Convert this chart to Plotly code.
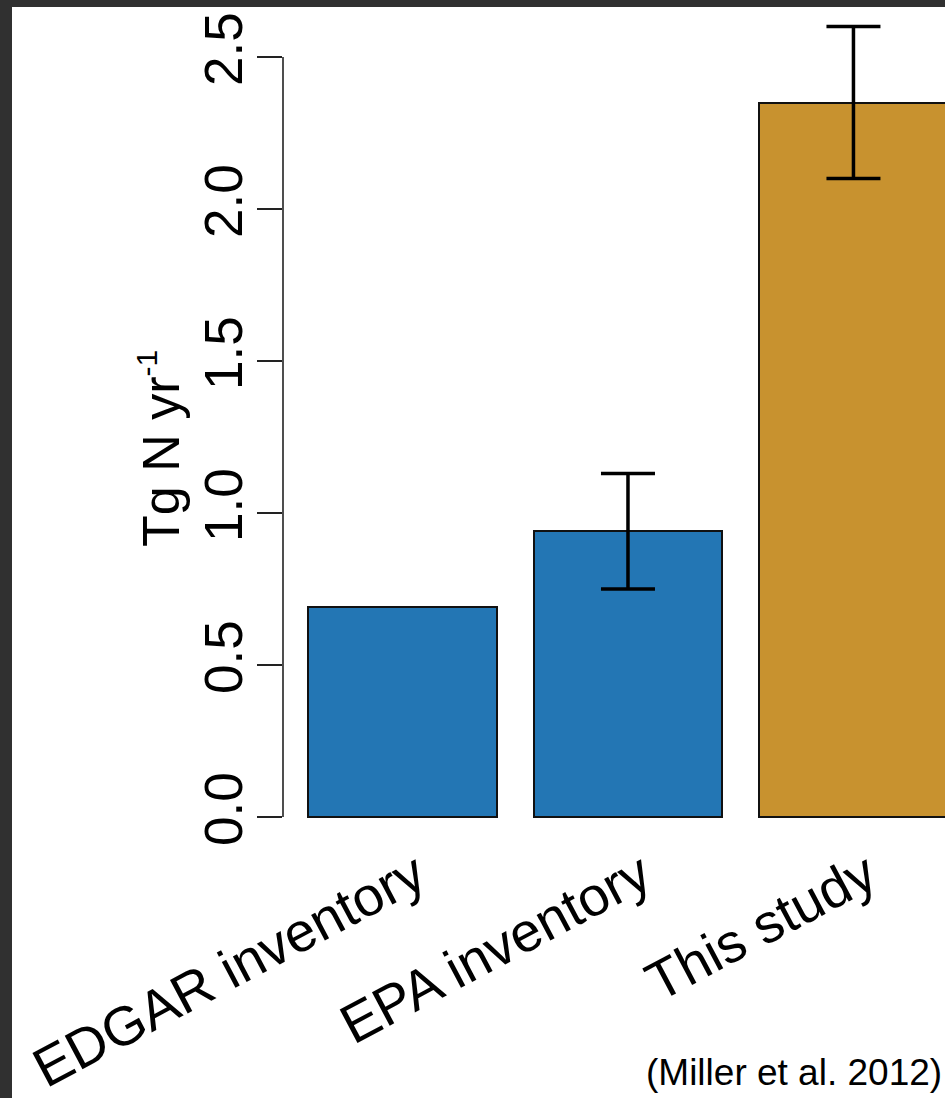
import plotly.graph_objects as go

categories = ["EDGAR inventory", "EPA inventory", "This study"]
values = [0.69, 0.94, 2.35]
err_categories = ["EPA inventory", "This study"]
err_values = [0.94, 2.35]
err_plus = [0.19, 0.25]
err_minus = [0.19, 0.25]
bar_colors = ["#2376B4", "#2376B4", "#C8922F"]
y_ticks = [0.0, 0.5, 1.0, 1.5, 2.0, 2.5]
y_ticktext = ["0.0", "0.5", "1.0", "1.5", "2.0", "2.5"]

W, H = 945, 1098
ML, MR, MT, MB = 283, 0, 20, 276
PW, PH = W - ML - MR, H - MT - MB
ZERO_PX, TOP_TICK_PX = 817, 57
PPU = (ZERO_PX - TOP_TICK_PX) / 2.5
Y0 = -(H - MB - ZERO_PX) / PPU
Y1 = (ZERO_PX - MT) / PPU

FONT = "Liberation Sans, Arial, Helvetica, sans-serif"

fig = go.Figure()
fig.add_trace(go.Bar(
    x=categories, y=values, width=0.835,
    marker=dict(color=bar_colors, line=dict(color="#111111", width=2)),
    showlegend=False, hoverinfo="skip",
))
fig.add_trace(go.Scatter(
    x=err_categories, y=err_values, mode="markers",
    marker=dict(size=0.1, color="rgba(0,0,0,0)"),
    error_y=dict(type="data", symmetric=False, array=err_plus, arrayminus=err_minus,
                 visible=True, color="#000000", thickness=3.5, width=27),
    showlegend=False, hoverinfo="skip",
))

def px_x(p):
    return (p - ML) / PW

def px_y(p):
    return (H - MB - p) / PH

shapes = [
    dict(type="rect", xref="paper", yref="paper", x0=px_x(12), x1=px_x(W + 5),
         y0=px_y(H + 5), y1=px_y(7), fillcolor="white", line=dict(width=0), layer="below"),
    dict(type="line", xref="paper", yref="y", x0=0, x1=0, y0=y_ticks[0], y1=y_ticks[-1],
         line=dict(color="#222222", width=1.6)),
]

annotations = [
    dict(text="Tg N yr<sup><span style='font-size:30px'>-1</span></sup>",
         xref="paper", yref="paper", x=px_x(160), y=px_y(449),
         xanchor="center", yanchor="middle", textangle=-90, showarrow=False,
         font=dict(family=FONT, size=52, color="#000000")),
    dict(text="(Miller et al. 2012)", xref="paper", yref="paper", x=px_x(944), y=px_y(1072),
         xanchor="right", yanchor="middle", showarrow=False,
         font=dict(family=FONT, size=37, color="#000000")),
]

fig.update_layout(
    width=W, height=H, autosize=False,
    margin=dict(l=ML, r=MR, t=MT, b=MB, pad=0, autoexpand=False),
    paper_bgcolor="#303030", plot_bgcolor="rgba(0,0,0,0)",
    shapes=shapes, annotations=annotations,
    bargap=0,
    xaxis=dict(range=[-0.530, 2.406], showgrid=False, zeroline=False, showline=False,
               automargin=False, ticks="", tickangle=-28,
               ticklabelstandoff=10, ticklabelshift=14,
               tickfont=dict(family=FONT, size=55, color="#000000")),
    yaxis=dict(range=[Y0, Y1], showgrid=False, zeroline=False, automargin=False,
               showline=False, tickvals=y_ticks, ticktext=y_ticktext, ticks="outside",
               ticklen=25, tickwidth=1.6, tickcolor="#222222", tickangle=-90,
               ticklabelstandoff=-6,
               tickfont=dict(family=FONT, size=53, color="#000000")),
)

fig.write_html(
    "out.html",
    config={"displayModeBar": False, "responsive": False},
    post_script="document.body.style.margin='0';document.body.style.overflow='hidden';"
                "document.documentElement.style.overflow='hidden';",
)
